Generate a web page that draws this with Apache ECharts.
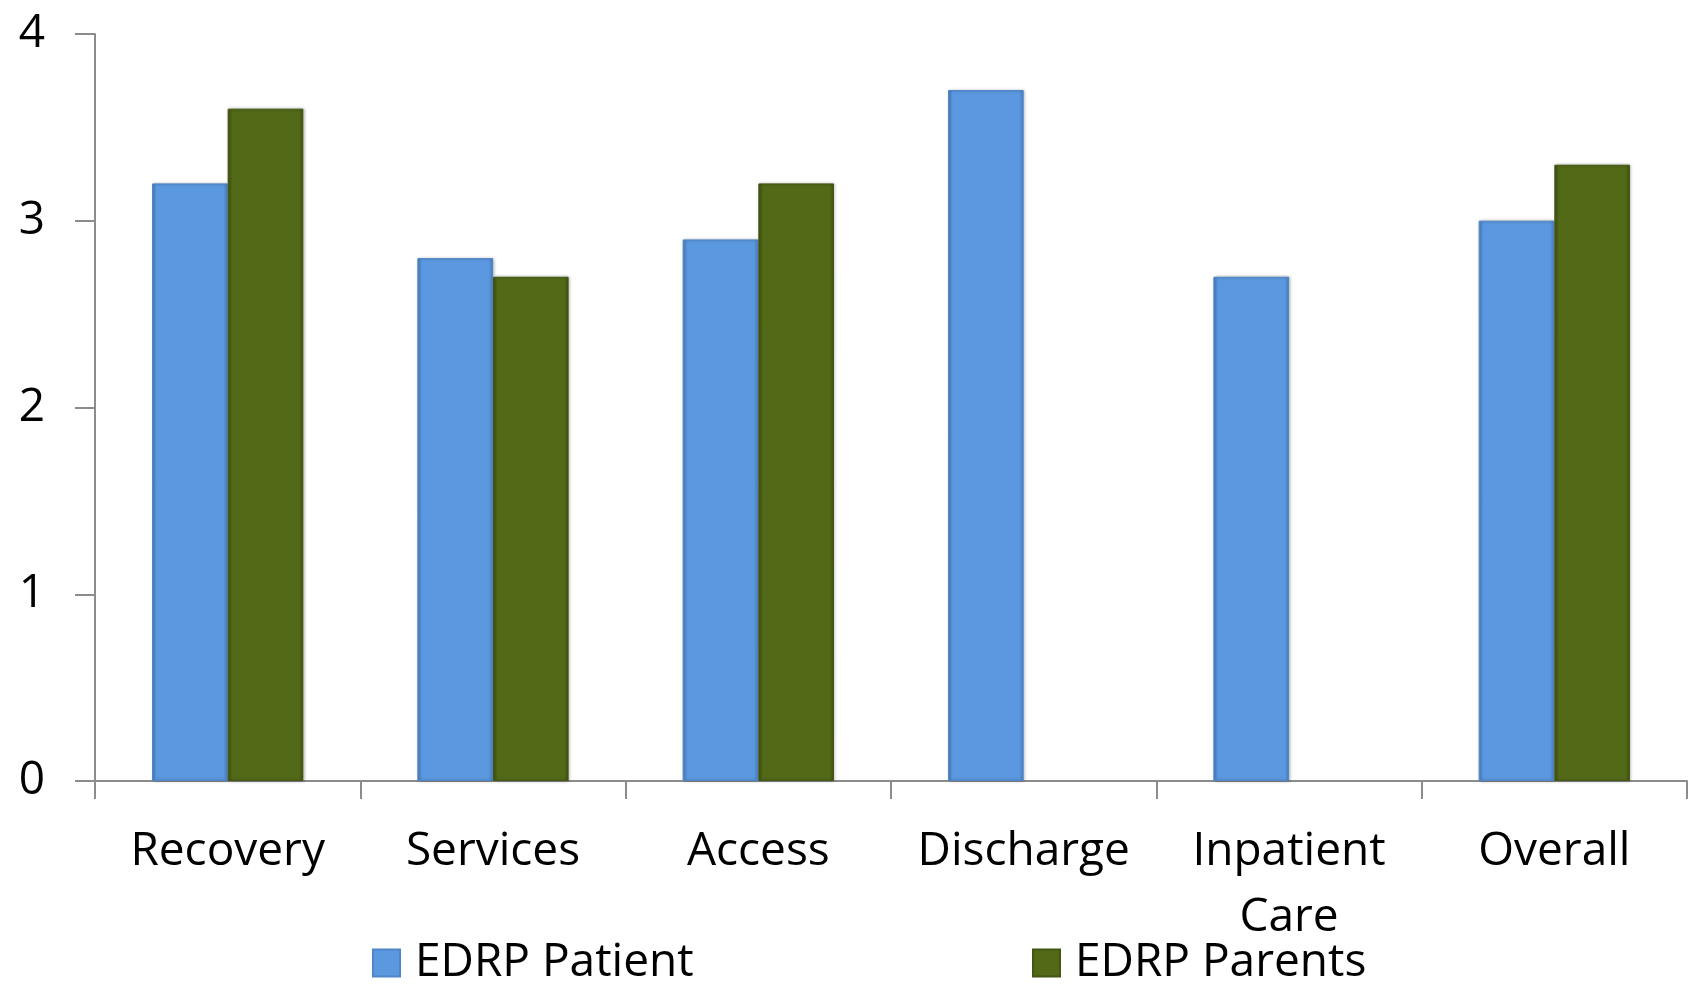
<!DOCTYPE html>
<html><head><meta charset="utf-8">
<script src="https://cdn.jsdelivr.net/npm/echarts@6/dist/echarts.min.js"></script>
<style>html,body{margin:0;padding:0;background:#fff}#c{width:1690px;height:987px}</style>
</head><body><div id="c"></div>
<script>
const categories = ['Recovery', 'Services', 'Access', 'Discharge', 'Inpatient\nCare', 'Overall'];
const patientValues = [3.2, 2.8, 2.9, 3.7, 2.7, 3.0];
const parentsValues = [3.6, 2.7, 3.2, null, null, 3.3];
const yTicks = [0, 1, 2, 3, 4];
const seriesNames = ['EDRP Patient', 'EDRP Parents'];

const FONT = 'Open Sans';
const FS = 46;
function barColor(base, dark) {
  return {
    type: 'linear', x: 0, y: 0, x2: 1, y2: 0,
    colorStops: [
      { offset: 0, color: dark },
      { offset: 0.06, color: base },
      { offset: 0.94, color: base },
      { offset: 1, color: dark }
    ]
  };
}
const chart = echarts.init(document.getElementById('c'));
chart.setOption({
  animation: false,
  grid: { left: 95, right: 3, top: 34, bottom: 206, containLabel: false },
  legend: [
    { data: [seriesNames[0]], left: 367, top: 935, icon: 'rect', itemWidth: 27, itemHeight: 27, itemGap: 16,
      textStyle: { fontFamily: FONT, fontSize: FS, color: '#000', padding: [0, 0, 0, 10] } },
    { data: [seriesNames[1]], left: 1027, top: 935, icon: 'rect', itemWidth: 27, itemHeight: 27, itemGap: 16,
      textStyle: { fontFamily: FONT, fontSize: FS, color: '#000', padding: [0, 0, 0, 10] } }
  ],
  xAxis: {
    type: 'category', data: categories,
    axisLine: { lineStyle: { color: '#8c8c8c', width: 2 } },
    axisTick: { show: true, length: 18, lineStyle: { color: '#8c8c8c', width: 2 } },
    axisLabel: { fontFamily: FONT, fontSize: FS, color: '#000', margin: 38, lineHeight: 66, interval: 0 },
    splitLine: { show: false }
  },
  yAxis: {
    type: 'value', min: 0, max: 4, interval: 1,
    axisLine: { show: true, lineStyle: { color: '#8c8c8c', width: 2 } },
    axisTick: { show: true, length: 20, lineStyle: { color: '#8c8c8c', width: 2 } },
    axisLabel: { fontFamily: FONT, fontSize: FS, color: '#000', margin: 50,
      formatter: v => yTicks.includes(v) ? String(v) : '' },
    splitLine: { show: false }
  },
  series: [
    { name: seriesNames[0], type: 'bar', data: patientValues, barGap: '0%', barCategoryGap: '43%',
      itemStyle: { color: barColor('#5b98df', '#4a80c4'), borderColor: '#4f86c8', borderWidth: 1,
        shadowColor: 'rgba(0,0,0,0.3)', shadowBlur: 3, shadowOffsetX: 1, shadowOffsetY: 0 } },
    { name: seriesNames[1], type: 'bar', data: parentsValues, barGap: '0%', barCategoryGap: '43%',
      itemStyle: { color: barColor('#526918', '#3f5210'), borderColor: '#435712', borderWidth: 1,
        shadowColor: 'rgba(0,0,0,0.3)', shadowBlur: 3, shadowOffsetX: 1, shadowOffsetY: 0 } }
  ]
});
</script></body></html>
